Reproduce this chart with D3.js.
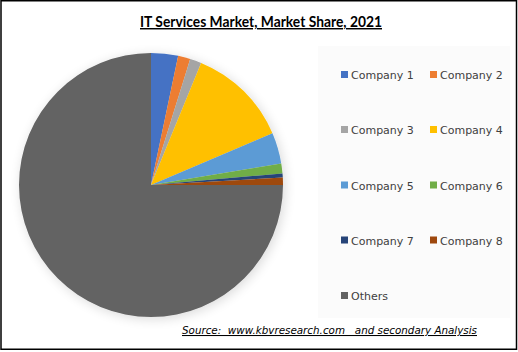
<!DOCTYPE html>
<html><head><meta charset="utf-8">
<script src="https://cdn.jsdelivr.net/npm/d3@7"></script>
<style>body{margin:0;background:#fff}svg{display:block}</style>
</head><body>
<svg id="c" width="518" height="352"></svg>
<script>
const categories = ["Company 1","Company 2","Company 3","Company 4","Company 5","Company 6","Company 7","Company 8","Others"];
const shares = [3.3, 1.5, 1.4, 12.4, 3.8, 1.2, 0.5, 0.9, 75.0];
const colors = ["#4472C4","#ED7D31","#A5A5A5","#FFC000","#5B9BD5","#70AD47","#264478","#9E480E","#636363"];
const title = "IT Services Market, Market Share, 2021";
const source = "Source:  www.kbvresearch.com   and secondary Analysis";

const svg = d3.select("#c");
const defs = svg.append("defs");
const f = defs.append("filter").attr("id","sh").attr("x","-20%").attr("y","-20%").attr("width","140%").attr("height","140%");
f.append("feGaussianBlur").attr("in","SourceAlpha").attr("stdDeviation",6);
f.append("feOffset").attr("dx",2).attr("dy",2).attr("result","b");
f.append("feComponentTransfer").append("feFuncA").attr("type","linear").attr("slope",0.15);
const m = f.append("feMerge"); m.append("feMergeNode"); m.append("feMergeNode").attr("in","SourceGraphic");

svg.append("rect").attr("x",1).attr("y",0.75).attr("width",515.5).attr("height",348.5)
  .attr("fill","#fff").attr("stroke","#000").attr("stroke-width",1.5);
svg.append("rect").attr("x",318).attr("y",46).attr("width",192).attr("height",272).attr("fill","#fbfbfb");

const cx = 151, cy = 185, r = 132;
const pie = d3.pie().sort(null).value(d => d)(shares);
const arc = d3.arc().innerRadius(0).outerRadius(r);
const g = svg.append("g").attr("transform",`translate(${cx},${cy})`).attr("filter","url(#sh)");
g.selectAll("path").data(pie).join("path").attr("d",arc).attr("fill",(d,i)=>colors[i]);

svg.append("text").attr("x",261).attr("y",27).attr("text-anchor","middle")
  .attr("font-family","Lato, 'Open Sans', sans-serif").attr("font-weight","bold").attr("font-size",14.5)
  .attr("fill","#000").attr("text-decoration","underline")
  .attr("textLength",242).attr("lengthAdjust","spacingAndGlyphs").text(title);

const xPos = [341, 430], yPos = [75, 130, 185.5, 240.5, 296];
const lg = svg.append("g").attr("font-family","'DejaVu Sans', Verdana, sans-serif").attr("font-size",11).attr("fill","#404040");
categories.forEach((c,i)=>{
  const x = xPos[i%2], y = yPos[Math.floor(i/2)];
  lg.append("rect").attr("x",x).attr("y",y-4).attr("width",7).attr("height",7).attr("fill",colors[i]);
  lg.append("text").attr("x",x+10).attr("y",y+4).text(c);
});

svg.append("text").attr("x",182).attr("y",334).attr("font-family","'DejaVu Sans', sans-serif")
  .attr("font-style","italic").attr("font-size",10.5).attr("fill","#000").attr("text-decoration","underline")
  .attr("xml:space","preserve").style("white-space","pre")
  .attr("textLength",295).attr("lengthAdjust","spacingAndGlyphs").text(source);
</script>
</body></html>
